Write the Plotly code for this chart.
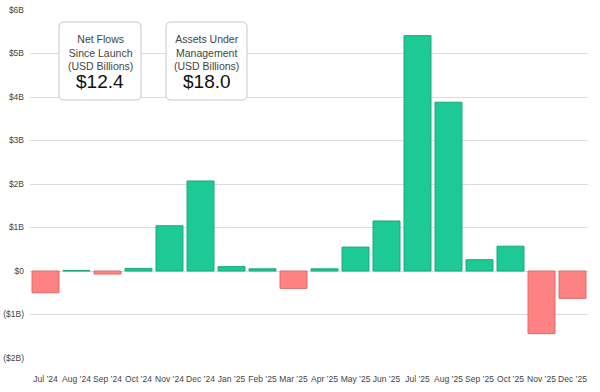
import plotly.graph_objects as go

months = ["Jul ’24", "Aug ’24", "Sep ’24", "Oct ’24", "Nov ’24", "Dec ’24",
          "Jan ’25", "Feb ’25", "Mar ’25", "Apr ’25", "May ’25", "Jun ’25",
          "Jul ’25", "Aug ’25", "Sep ’25", "Oct ’25", "Nov ’25", "Dec ’25"]
net_flows = [-0.50, 0.01, -0.07, 0.06, 1.04, 2.07,
             0.10, 0.05, -0.40, 0.05, 0.55, 1.15,
             5.41, 3.88, 0.26, 0.57, -1.44, -0.63]
tick_vals = [-2, -1, 0, 1, 2, 3, 4, 5, 6]
tick_text = ["($2B)", "($1B)", "$0", "$1B", "$2B", "$3B", "$4B", "$5B", "$6B"]
box_titles = ["Net Flows<br>Since Launch<br>(USD Billions)",
              "Assets Under<br>Management<br>(USD Billions)"]
box_values = ["$12.4", "$18.0"]

GREEN = "#1dc995"
GREEN_LINE = "#17a87c"
RED = "#ff8282"
RED_LINE = "#e06a6a"

fill = [GREEN if v >= 0 else RED for v in net_flows]
line = [GREEN_LINE if v >= 0 else RED_LINE for v in net_flows]

fig = go.Figure(go.Bar(
    x=months, y=net_flows,
    marker=dict(color=fill, line=dict(color=line, width=1)),
    hoverinfo="x+y",
))

W, H = 600, 392
L, T = 30, 10
R = W - 588
B = H - 358
pw, ph = W - L - R, H - T - B

def px_x(p):
    return (p - L) / pw

def px_y(p):
    return (H - B - p) / ph

shapes = []
annotations = []
boxes = [(59, 141), (166, 247)]
top, bot = 22, 100
r = 5
for (x0p, x1p), title, val in zip(boxes, box_titles, box_values):
    x0, x1 = px_x(x0p), px_x(x1p)
    y0, y1 = px_y(bot), px_y(top)
    rx, ry = r / pw, r / ph
    path = (f"M {x0+rx},{y0} L {x1-rx},{y0} Q {x1},{y0} {x1},{y0+ry} "
            f"L {x1},{y1-ry} Q {x1},{y1} {x1-rx},{y1} "
            f"L {x0+rx},{y1} Q {x0},{y1} {x0},{y1-ry} "
            f"L {x0},{y0+ry} Q {x0},{y0} {x0+rx},{y0} Z")
    shapes.append(dict(type="path", path=path, xref="paper", yref="paper",
                       fillcolor="white", line=dict(color="#c8c8c8", width=1),
                       layer="above"))
    cx = px_x((x0p + x1p) / 2)
    annotations.append(dict(x=cx, y=px_y(52), xref="paper", yref="paper",
                            xanchor="center", yanchor="middle",
                            text=title, showarrow=False,
                            font=dict(family="Liberation Sans, Arial, sans-serif",
                                      size=10.5, color="#444"),
                            align="center"))
    annotations.append(dict(x=cx, y=px_y(82), xref="paper", yref="paper",
                            xanchor="center", yanchor="middle",
                            text=val, showarrow=False,
                            font=dict(family="Liberation Sans, Arial, sans-serif",
                                      size=19, color="#111"),
                            align="center"))

fig.update_layout(
    width=W, height=H,
    margin=dict(l=L, r=R, t=T, b=B, autoexpand=False),
    paper_bgcolor="white", plot_bgcolor="white",
    font=dict(family="Liberation Sans, Arial, sans-serif", color="#444", size=9),
    bargap=0.13,
    showlegend=False,
    shapes=shapes,
    annotations=annotations,
    xaxis=dict(showgrid=False, showline=False, ticks="", tickangle=0,
               automargin=False, ticklabelstandoff=14,
               tickfont=dict(size=8.5, color="#444"), range=[-0.5, 17.5]),
    yaxis=dict(range=[-2, 6], tickvals=tick_vals, ticktext=tick_text,
               automargin=False,
               showgrid=True, gridcolor="#dcdcdc", gridwidth=1,
               zeroline=True, zerolinecolor="#dcdcdc", zerolinewidth=1,
               showline=False, ticks="", tickfont=dict(size=8.5, color="#444"),
               ticklabelstandoff=5),
)

fig.write_html(
    "out.html",
    config={"displayModeBar": False},
    post_script="document.body.style.margin='0';document.body.style.overflow='hidden';",
)
